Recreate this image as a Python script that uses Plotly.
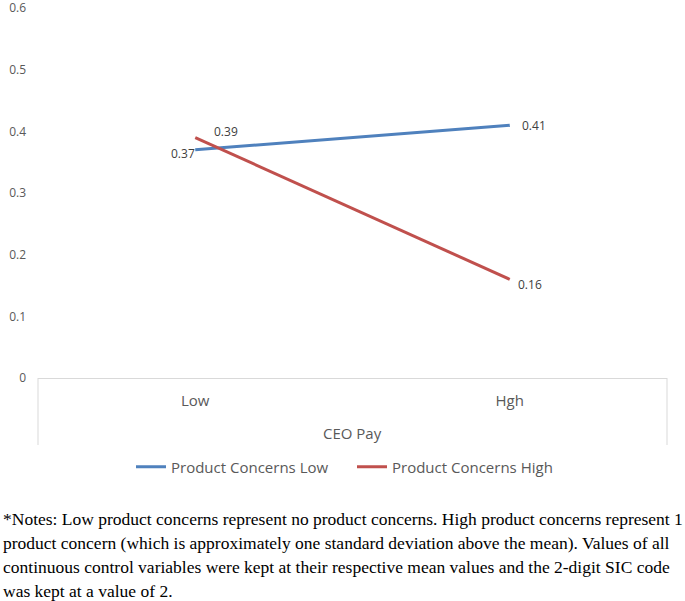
import plotly.graph_objects as go

categories = ["Low", "Hgh"]
series_names = ["Product Concerns Low", "Product Concerns High"]
low_concerns = [0.37, 0.41]
high_concerns = [0.39, 0.16]
y_ticks = [0, 0.1, 0.2, 0.3, 0.4, 0.5, 0.6]
x_title = "CEO Pay"
notes = [
    "*Notes: Low product concerns represent no product concerns. High product concerns represent 1",
    "product concern (which is approximately one standard deviation above the mean). Values of all",
    "continuous control variables were kept at their respective mean values and the 2-digit SIC code",
    "was kept at a value of 2.",
]

W, H = 685, 601
L, R, T, B = 38, 18, 8, 223
plot_w = W - L - R
plot_h = H - T - B

def py(pix):
    return (H - B - pix) / plot_h

def px(pix):
    return (pix - L) / plot_w

fig = go.Figure()
fig.add_trace(go.Scatter(x=categories, y=low_concerns, mode="lines", name=series_names[0],
                         line=dict(color="#4F81BD", width=3)))
fig.add_trace(go.Scatter(x=categories, y=high_concerns, mode="lines", name=series_names[1],
                         line=dict(color="#C0504D", width=3)))

label_font = dict(family="Open Sans", size=12, color="#404040")
# data labels: (series values, index, xanchor, xshift, yshift)
label_specs = [
    (low_concerns, 0, "right", 2, -4),
    (low_concerns, 1, "left", 10, 0),
    (high_concerns, 0, "left", 17, 6),
    (high_concerns, 1, "left", 6, -5),
]
for vals, i, xa, xs, ys in label_specs:
    fig.add_annotation(x=categories[i], y=vals[i], text=f"{vals[i]:.2f}", showarrow=False,
                       xanchor=xa, yanchor="middle", xshift=xs, yshift=ys, font=label_font)

# category axis box
for xv in (0, 1):
    fig.add_shape(type="line", xref="paper", yref="paper", x0=xv, x1=xv, y0=0, y1=py(445),
                  line=dict(color="#D9D9D9", width=1))

fig.add_annotation(xref="paper", yref="paper", x=px(353), y=py(433), text=x_title,
                   showarrow=False, xanchor="center", yanchor="middle",
                   font=dict(family="Open Sans", size=15, color="#595959"))

note_y = [519, 543, 567, 591]
for txt, yy in zip(notes, note_y):
    fig.add_annotation(xref="paper", yref="paper", x=px(1), y=py(yy), text=txt,
                       showarrow=False, xanchor="left", yanchor="middle",
                       font=dict(family="Liberation Serif", size=17.5, color="#000000"))

fig.update_layout(
    width=W, height=H,
    margin=dict(l=L, r=R, t=T, b=B, autoexpand=False),
    paper_bgcolor="white", plot_bgcolor="white",
    showlegend=True,
    legend=dict(orientation="h", x=px(131), xanchor="left",
                y=py(467), yanchor="middle", entrywidth=176, entrywidthmode="pixels",
                font=dict(family="Open Sans", size=15, color="#595959")),
    xaxis=dict(type="category", categoryorder="array", categoryarray=categories,
               range=[-0.5, 1.5], showgrid=False, zeroline=False, automargin=False,
               showline=True, linecolor="#D9D9D9", linewidth=1, ticks="",
               ticklabelstandoff=9,
               tickfont=dict(family="Open Sans", size=15, color="#595959")),
    yaxis=dict(range=[0, 0.6001], tickvals=y_ticks, ticktext=[f"{v:g}" for v in y_ticks],
               showgrid=False, zeroline=False, showline=False, ticks="", automargin=False,
               ticklabelstandoff=11, ticklabeloverflow="allow",
               tickfont=dict(family="Open Sans", size=12, color="#595959")),
)

fig.write_html("out.html", config={"displayModeBar": False},
               post_script="document.body.style.margin='0px';document.body.style.overflow='hidden';")
